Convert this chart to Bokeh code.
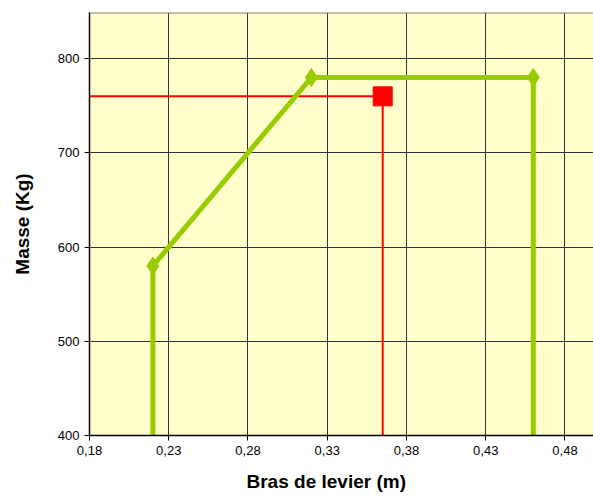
from bokeh.plotting import figure
from bokeh.models import Range1d, FixedTicker, Title, Span
from bokeh.embed import file_html
from bokeh.resources import INLINE

# Data
envelope_x = [0.22, 0.22, 0.32, 0.46, 0.46]
envelope_y = [400, 580, 780, 780, 400]
vertex_x = [0.22, 0.32, 0.46]
vertex_y = [580, 780, 780]
point_x = [0.365]
point_y = [760]
x_ticks = [0.18, 0.23, 0.28, 0.33, 0.38, 0.43, 0.48]
x_tick_labels = ["0,18", "0,23", "0,28", "0,33", "0,38", "0,43", "0,48"]
y_ticks = [400, 500, 600, 700, 800]

p = figure(width=593, height=502, output_backend="svg", toolbar_location=None,
           x_range=Range1d(0.18, 0.498), y_range=Range1d(400, 849),
           min_border_left=89, min_border_right=0, min_border_top=12, min_border_bottom=67)
p.background_fill_color = "#FFFFCC"
p.border_fill_color = "white"
p.outline_line_color = None

GREEN = "#99CC00"
RED = "#FF0000"

# red guide lines from the point
p.line(x=[0.18, point_x[0], point_x[0]], y=[point_y[0], point_y[0], 400],
       line_color=RED, line_width=2)
p.scatter(point_x, point_y, marker="square", size=19, fill_color=RED, line_color=RED)

# envelope
p.line(envelope_x, envelope_y, line_color=GREEN, line_width=5)
p.scatter(vertex_x, vertex_y, marker="diamond", size=18, fill_color=GREEN, line_color=GREEN)

p.add_layout(Span(location=849, dimension="width", line_color="#808080", line_width=2))

for ax in (p.xaxis[0], p.yaxis[0]):
    ax.axis_line_color = "black"
    ax.axis_line_width = 1.5
    ax.major_tick_line_color = "black"
    ax.major_tick_out = 5
    ax.major_tick_in = 0
    ax.minor_tick_line_color = None
    ax.major_label_text_font = "Liberation Sans"
    ax.major_label_text_font_size = "13px"
    ax.major_label_text_color = "black"
    ax.major_label_standoff = 5

p.xaxis.ticker = FixedTicker(ticks=x_ticks)
p.xaxis.major_label_overrides = dict(zip(x_ticks, x_tick_labels))
p.yaxis.ticker = FixedTicker(ticks=y_ticks)

p.yaxis.axis_label = "Masse (Kg)"
p.yaxis.axis_label_text_font = "Liberation Sans"
p.yaxis.axis_label_text_font_style = "bold"
p.yaxis.axis_label_text_font_size = "19px"
p.yaxis.axis_label_text_color = "black"
p.yaxis.axis_label_standoff = 22

xlabel = Title(text="Bras de levier (m)", align="left", offset=157, standoff=22,
               text_font="Liberation Sans", text_font_style="bold", text_font_size="19px",
               text_color="black")
p.add_layout(xlabel, "below")

p.xgrid.ticker = FixedTicker(ticks=x_ticks)
p.ygrid.ticker = FixedTicker(ticks=y_ticks)
p.grid.grid_line_color = "#333333"
p.grid.grid_line_width = 1

open("out.html", "w").write(file_html(p, INLINE))
